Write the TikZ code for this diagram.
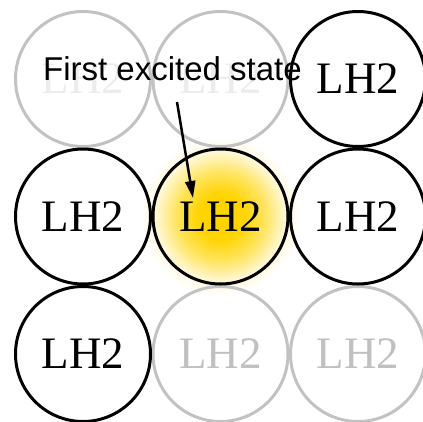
\documentclass[tikz,border=0pt]{standalone}
\usepackage{fontspec}
\setmainfont{Liberation Serif}
\newfontfamily\labelsans{Liberation Sans}
\usetikzlibrary{arrows.meta}
\definecolor{glowgold}{RGB}{255,212,0}
\definecolor{fadedring}{RGB}{194,194,194}
\definecolor{fadedtext}{RGB}{192,192,192}
\definecolor{ghosttext}{RGB}{236,236,236}
% radial glow: 25bp is mapped onto the radius of the shaded circle
\pgfdeclareradialshading{excitonglow}{\pgfpoint{0bp}{0bp}}{%
  color(0bp)=(glowgold); color(7bp)=(glowgold);
  color(14bp)=(glowgold!62!white); color(19bp)=(glowgold!25!white);
  color(22bp)=(glowgold!8!white); color(25bp)=(white); color(50bp)=(white)}
\tikzset{
  ring/.style={circle, draw=black, line width=3pt, minimum size=135pt,
    inner sep=0pt, font=\fontsize{45}{45}\selectfont, text=black},
  fadedring/.style={ring, draw=fadedring, text=fadedtext},
  ghostring/.style={ring, draw=fadedring, text=ghosttext},
  pointer/.style={line width=2.5pt, -{Triangle[length=17pt,width=10pt]}}
}
\begin{document}
\begin{tikzpicture}[x=1pt,y=-1pt]
  \useasboundingbox (0,0) rectangle (423,421);
  % glow behind the excited complex
  \shade[shading=excitonglow] (220.5,216.5) circle (80);
  % faded rings
  \node[ghostring] (a1) at (83,79) {LH2};
  \node[ghostring] (a2) at (220.5,79) {LH2};
  \node[fadedring] (c2) at (220.5,354) {LH2};
  \node[fadedring] (c3) at (358,354) {LH2};
  % active rings
  \node[ring] (a3) at (358,79) {LH2};
  \node[ring] (b1) at (83,216.5) {LH2};
  \node[ring] (b2) at (220.5,216.5) {LH2};
  \node[ring] (b3) at (358,216.5) {LH2};
  \node[ring] (c1) at (83,354) {LH2};
  % caption and pointer
  \node[anchor=base west, inner sep=0pt, font=\labelsans\fontsize{33}{33}\selectfont]
    (caption) at (43,80) {First excited state};
  \coordinate (tail) at (177,102);
  \coordinate (tip) at (193,198);
  \draw[pointer] (tail) -- (tip);
\end{tikzpicture}
\end{document}
